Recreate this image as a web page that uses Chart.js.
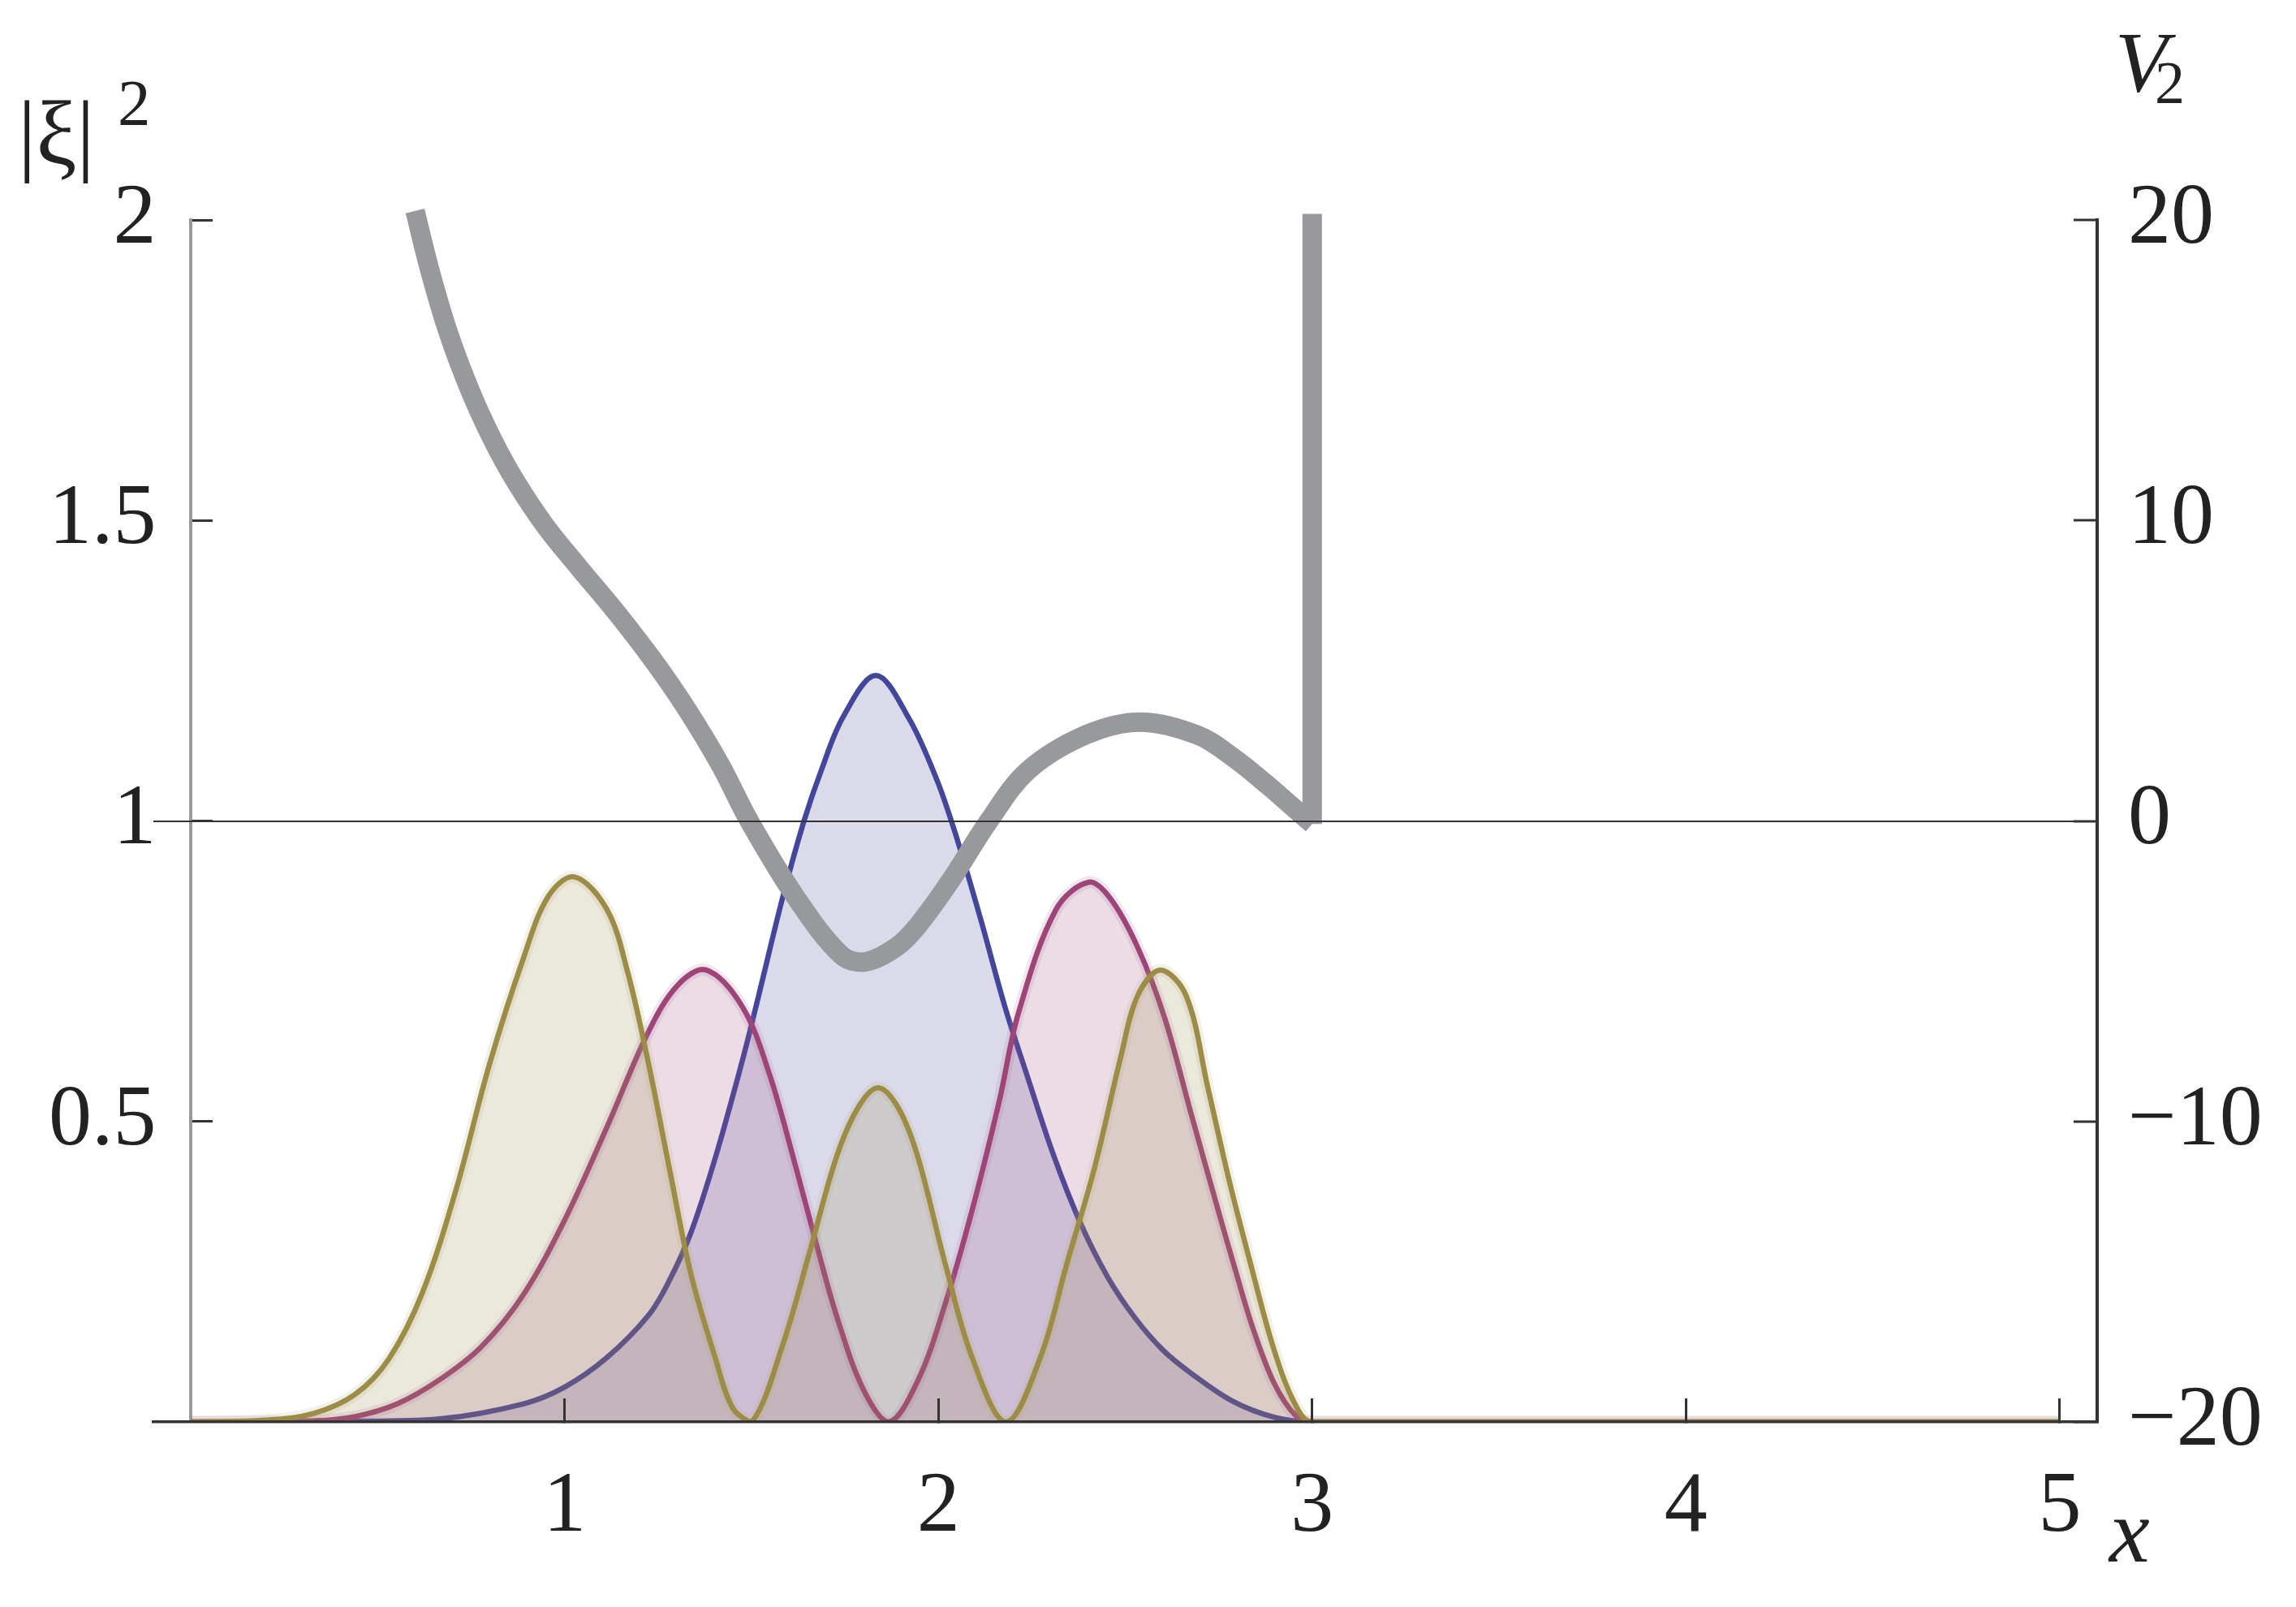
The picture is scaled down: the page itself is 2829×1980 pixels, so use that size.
<!DOCTYPE html>
<html lang="en">
<head>
<meta charset="UTF-8" />
<title>|ξ|² and V₂ against x</title>
<script src="https://cdn.jsdelivr.net/npm/chart.js"></script>
<style>
  body { margin: 0; background: #fff; }
  #wrap { position: relative; width: 2829px; height: 1980px; }
  .lbl { position: absolute; font-family: "Liberation Serif", serif; color: #222; line-height: 1; white-space: nowrap; }
  .it { font-style: italic; }
</style>
</head>
<body>
<div id="wrap">
  <canvas id="chart" width="2829" height="1980"></canvas>
  <div class="lbl" style="left:22px; top:108px; font-size:112px;">|ξ|</div>
  <div class="lbl" style="left:145px; top:87px; font-size:81px;">2</div>
  <div class="lbl it" style="left:2606px; top:24px; font-size:106px;">V</div>
  <div class="lbl" style="left:2655px; top:65px; font-size:74px;">2</div>
  <div class="lbl it" style="left:2599px; top:1830px; font-size:112px;">x</div>
</div>

<script>
  // tick positions
  const xTicks = [1, 2, 3, 4, 5];
  const yTicks = [0.5, 1, 1.5, 2];
  const vTicks = [-20, -10, 0, 10, 20];

  // |xi|^2, one peak (blue)
  const blueX = [0, 0.4, 0.665, 0.889, 1.0, 1.113, 1.225, 1.28, 1.338, 1.403, 1.4755, 1.512, 1.584, 1.64, 1.686, 1.746, 1.833,
                 1.92, 1.995, 2.045, 2.112, 2.178, 2.236, 2.308, 2.38, 2.453, 2.525, 2.6, 2.674, 2.786, 2.898, 3.0, 5.0];
  const blueY = [0, 0.001, 0.005, 0.03, 0.058, 0.107, 0.178, 0.235, 0.315, 0.439, 0.601, 0.691, 0.874, 0.999, 1.083, 1.174, 1.242,
                 1.172, 1.07, 0.98, 0.839, 0.691, 0.579, 0.444, 0.331, 0.241, 0.174, 0.12, 0.082, 0.035, 0.008, 0, 0];

  // |xi|^2, two peaks (magenta)
  const pinkX = [0, 0.33, 0.44, 0.552, 0.665, 0.777, 0.889, 1.001, 1.113, 1.225, 1.303, 1.379, 1.4755, 1.548, 1.62, 1.678,
                 1.729, 1.801, 1.868, 1.946, 2.018, 2.091, 2.163, 2.214, 2.315, 2.402, 2.46, 2.533, 2.605, 2.677, 2.75,
                 2.793, 2.842, 2.898, 2.954, 3.0, 5.0];
  const pinkY = [0, 0.002, 0.009, 0.03, 0.07, 0.125, 0.211, 0.337, 0.49, 0.65, 0.727, 0.752, 0.691, 0.579, 0.421, 0.286,
                 0.174, 0.052, 0, 0.07, 0.196, 0.354, 0.534, 0.68, 0.853, 0.898, 0.871, 0.79, 0.673, 0.511, 0.349,
                 0.256, 0.155, 0.065, 0.012, 0, 0];

  // |xi|^2, three peaks (olive)
  const oliveX = [0, 0.2, 0.328, 0.44, 0.53, 0.619, 0.709, 0.799, 0.889, 0.956, 1.026, 1.113, 1.169, 1.225, 1.281, 1.338,
                  1.403, 1.45, 1.501, 1.584, 1.657, 1.729, 1.787, 1.84, 1.895, 1.946, 2.018, 2.091, 2.181, 2.272, 2.344,
                  2.417, 2.489, 2.533, 2.594, 2.663, 2.721, 2.779, 2.837, 2.898, 2.954, 3.0, 5.0];
  const oliveY = [0, 0.003, 0.014, 0.046, 0.105, 0.214, 0.385, 0.595, 0.77, 0.874, 0.907, 0.853, 0.748, 0.595, 0.42, 0.246,
                  0.107, 0.023, 0, 0.129, 0.286, 0.444, 0.525, 0.556, 0.52, 0.439, 0.264, 0.106, 0, 0.106, 0.264,
                  0.421, 0.61, 0.709, 0.752, 0.709, 0.556, 0.399, 0.259, 0.12, 0.03, 0, 0];

  // potential V2 (right axis) and the wall at x = 3
  const potX = [0.6, 0.639, 0.689, 0.749, 0.809, 0.869, 0.949, 1.038, 1.138, 1.238, 1.327, 1.417, 1.494, 1.618, 1.741,
                1.804, 1.887, 1.944, 2.034, 2.135, 2.24, 2.394, 2.539, 2.693, 2.79, 2.88, 2.94, 3.0];
  const potV = [20.3, 18.35, 16.25, 14.27, 12.65, 11.3, 9.81, 8.44, 6.95, 5.33, 3.72, 1.86, 0, -2.53, -4.47,
                -4.69, -4.2, -3.5, -1.96, 0, 1.68, 2.86, 3.29, 2.86, 2.1, 1.2, 0.55, -0.1];
  const wallX = [3.0, 3.0];
  const wallV = [-0.1, 20.2];

  const pts = (xs, ys) => xs.map((x, i) => ({ x: x, y: ys[i] }));
  const fmt = v => v < 0 ? '\u2212' + (-v) : String(v);
  const dark = '#333333';

  Chart.defaults.font.family = '"Liberation Serif", "Times New Roman", serif';
  Chart.defaults.color = '#222222';

  const curve = (data, line, fill) => ({
    data: data, yAxisID: 'yL', borderColor: line, backgroundColor: fill, fill: 'origin',
    borderWidth: 6.5, pointRadius: 0, tension: 0.35
  });
  // soft light edge drawn under a curve
  const halo = (data, color) => ({
    data: data, yAxisID: 'yL', borderColor: color, fill: false,
    borderWidth: 15, pointRadius: 0, tension: 0.35
  });
  const grey = (data, smooth) => ({
    data: data, yAxisID: 'yR', borderColor: '#97999c', borderWidth: 24, fill: false,
    pointRadius: 0, tension: smooth ? 0.35 : 0, borderCapStyle: 'butt', clip: false
  });

  new Chart(document.getElementById('chart'), {
    type: 'line',
    data: {
      datasets: [
        grey(pts(potX, potV), true),
        grey(pts(wallX, wallV), false),
        curve(pts(oliveX, oliveY), '#9d8c45', 'rgba(155,140,80,0.2)'),
        halo(pts(oliveX, oliveY), 'rgba(175,165,110,0.16)'),
        curve(pts(pinkX, pinkY), '#9f4479', 'rgba(155,80,130,0.2)'),
        halo(pts(pinkX, pinkY), 'rgba(170,110,150,0.16)'),
        curve(pts(blueX, blueY), '#42479c', 'rgba(70,70,155,0.2)')
      ]
    },
    options: {
      responsive: false,
      animation: false,
      devicePixelRatio: 1,
      events: [],
      layout: { padding: { left: 189, top: 271, right: 0, bottom: 0 } },
      plugins: { legend: { display: false }, tooltip: { enabled: false } },
      scales: {
        x: {
          type: 'linear', min: -0.1, max: 5.1, position: 'bottom',
          afterBuildTicks: s => { s.ticks = xTicks.map(v => ({ value: v })); },
          afterFit: s => { s.height = 228; },
          grid: { drawOnChartArea: false, tickLength: -29, tickWidth: 3, tickColor: dark, z: 1 },
          border: { color: dark, width: 3.5, z: 1 },
          ticks: { padding: 72, font: { size: 106 }, maxRotation: 0, autoSkip: false, callback: fmt }
        },
        yL: {
          type: 'linear', min: 0, max: 2, position: { x: 0 },
          afterBuildTicks: s => { s.ticks = yTicks.map(v => ({ value: v })); },
          grid: { drawOnChartArea: false, tickLength: -29, tickWidth: 3, tickColor: dark },
          border: { color: '#9a9a9a', width: 4 },
          // labels sit on the axis line when the axis is placed by value, so pad them with thin spaces
          ticks: { font: { size: 106 }, autoSkip: false, callback: v => fmt(v) + '\u2009\u2009' }
        },
        yR: {
          type: 'linear', min: -20, max: 20, position: 'right',
          afterBuildTicks: s => { s.ticks = vTicks.map(v => ({ value: v })); },
          afterFit: s => { s.width = 245; },
          grid: {
            color: c => (c.tick && c.tick.value === 0) ? dark : 'rgba(0,0,0,0)',
            lineWidth: 2, tickLength: -29, tickWidth: 3, tickColor: dark, z: 1
          },
          border: { color: dark, width: 4, z: 1 },
          ticks: { padding: 67, font: { size: 106 }, autoSkip: false, callback: fmt }
        }
      }
    }
  });
</script>
</body>
</html>
